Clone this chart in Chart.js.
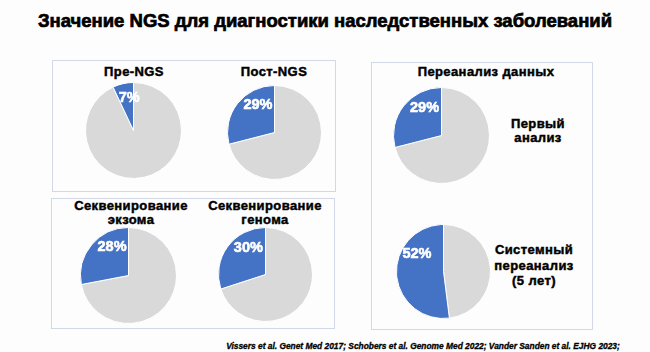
<!DOCTYPE html>
<html>
<head>
<meta charset="utf-8">
<script src="https://cdn.jsdelivr.net/npm/chart.js@4.4.1/dist/chart.umd.min.js"></script>
<style>
  body { margin: 0; background: #fdfdfd; }
  #page { position: relative; width: 650px; height: 352px; font-family: "Liberation Sans", Arial, sans-serif; color: #000; }
  .t { position: absolute; font-weight: bold; text-align: center; white-space: nowrap; transform: translateX(-50%); -webkit-text-stroke: 0.45px #000; letter-spacing: 0.4px; }
  .box { position: absolute; border: 1px solid #d2d8e8; box-sizing: border-box; }
  canvas { position: absolute; }
</style>
</head>
<body>
<div id="page">
  <div class="t" style="left:325px;top:10px;font-size:18.5px;letter-spacing:0;-webkit-text-stroke:0.7px #000;">Значение NGS для диагностики наследственных заболеваний</div>

  <div class="box" style="left:52px;top:60px;width:284px;height:132px;"></div>
  <div class="box" style="left:51px;top:198px;width:284px;height:131px;"></div>
  <div class="box" style="left:371px;top:62px;width:222px;height:268px;"></div>

  <div class="t" style="left:134px;top:64px;font-size:13px;">Пре-NGS</div>
  <div class="t" style="left:274px;top:64px;font-size:13px;">Пост-NGS</div>
  <div class="t" style="left:131px;top:199px;font-size:13px;line-height:13.5px;">Секвенирование<br>экзома</div>
  <div class="t" style="left:265px;top:199px;font-size:13px;line-height:13.5px;">Секвенирование<br>генома</div>
  <div class="t" style="left:486px;top:64px;font-size:13px;">Переанализ данных</div>
  <div class="t" style="left:538px;top:117px;font-size:13px;line-height:13.5px;">Первый<br>анализ</div>
  <div class="t" style="left:534px;top:242px;font-size:13px;line-height:15.5px;">Системный<br>переанализ<br>(5 лет)</div>

  <div class="t" style="left:423px;top:341px;font-size:8.4px;font-style:italic;letter-spacing:0;-webkit-text-stroke:0.3px #000;">Vissers et al. Genet Med 2017; Schobers et al. Genome Med 2022; Vander Sanden et al. EJHG 2023;</div>
</div>
<script>
// diagnostic yield, %
const categories = ["Пре-NGS", "Пост-NGS", "Секвенирование экзома", "Секвенирование генома", "Первый анализ", "Системный переанализ (5 лет)"];
const yieldValues = [7, 29, 28, 30, 29, 52];

const blue = "#4472c4";
const grey = "#d9d9d9";

// pie centre x, y and radius on the page
const layout = [
  [133, 130, 48],
  [274, 132, 47],
  [128, 275, 48],
  [265, 274, 47],
  [441, 135, 48],
  [443, 271, 47]
];

const pctLabel = {
  id: "pctLabel",
  afterDatasetsDraw(chart) {
    const arc = chart.getDatasetMeta(0).data[1];
    const { x, y, startAngle, endAngle, outerRadius } = arc.getProps(["x", "y", "startAngle", "endAngle", "outerRadius"], true);
    const half = (endAngle - startAngle) / 2;
    const a = -Math.PI / 2 - half * 0.6;
    const r = outerRadius * 0.68;
    const tx = x + Math.cos(a) * r, ty = y + Math.sin(a) * r;
    const txt = chart.data.datasets[0].data[1] + "%";
    const ctx = chart.ctx;
    ctx.save();
    ctx.font = "bold 14.5px 'Liberation Sans', Arial, sans-serif";
    ctx.fillStyle = "#fff";
    ctx.strokeStyle = "#fff";
    ctx.lineWidth = 0.6;
    ctx.textAlign = "center";
    ctx.textBaseline = "middle";
    ctx.fillText(txt, tx, ty);
    ctx.strokeText(txt, tx, ty);
    ctx.restore();
  }
};

const page = document.getElementById("page");
yieldValues.forEach((v, i) => {
  const [cx, cy, rad] = layout[i];
  const size = rad * 2 + 1;
  const canvas = document.createElement("canvas");
  canvas.width = size;
  canvas.height = size;
  canvas.style.left = (cx - size / 2) + "px";
  canvas.style.top = (cy - size / 2) + "px";
  page.appendChild(canvas);

  new Chart(canvas.getContext("2d"), {
    type: "pie",
    data: {
      labels: ["", categories[i]],
      datasets: [{
        data: [100 - v, v],
        backgroundColor: [grey, blue],
        borderColor: "#ffffff",
        borderWidth: 1
      }]
    },
    options: {
      responsive: false,
      animation: false,
      layout: { padding: 0 },
      plugins: { legend: { display: false }, tooltip: { enabled: false } }
    },
    plugins: [pctLabel]
  });
});
</script>
</body>
</html>
